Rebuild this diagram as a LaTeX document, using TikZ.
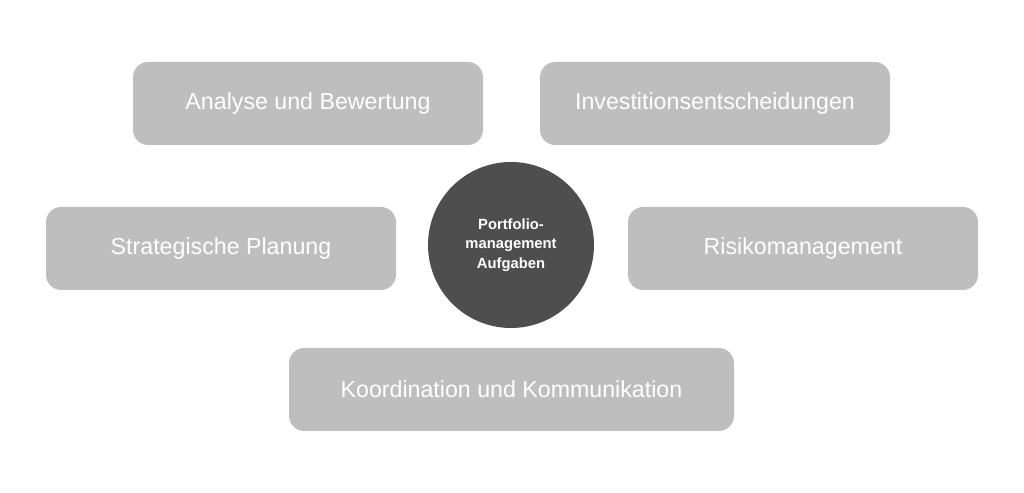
\documentclass[tikz,border=0pt]{standalone}
\usepackage{fontspec}
\setmainfont{Liberation Sans}
\usetikzlibrary{positioning}
\definecolor{taskcolor}{RGB}{190, 190, 190}
\definecolor{corecolor}{RGB}{78, 78, 78}

\begin{document}
\begin{tikzpicture}[
    task/.style={rectangle, rounded corners=0.38cm, minimum width=8.75cm, minimum height=2.075cm, align=center, fill=taskcolor, text=white, font=\fontsize{16.5}{20}\selectfont, inner sep=0pt},
    core/.style={circle, minimum size=4.15cm, align=center, fill=corecolor, text=white, font=\bfseries\fontsize{10.5}{14}\selectfont, inner sep=0pt},
]
    \useasboundingbox (0, 0) rectangle (25.6, 12.325);

    % Centre
    \node[core] (core) at (12.775, 6.2) {Portfolio-\\management\\Aufgaben};

    % Tasks
    \node[task] (analyse) at (7.7, 9.7375) {Analyse und Bewertung};
    \node[task] (invest) at (17.875, 9.7375) {Investitionsentscheidungen};
    \node[task] (strategie) at (5.525, 6.1125) {Strategische Planung};
    \node[task] (risiko) at (20.075, 6.1125) {Risikomanagement};
    \node[task, minimum width=11.125cm] (koord) at (12.7875, 2.5875) {Koordination und Kommunikation};
\end{tikzpicture}
\end{document}
